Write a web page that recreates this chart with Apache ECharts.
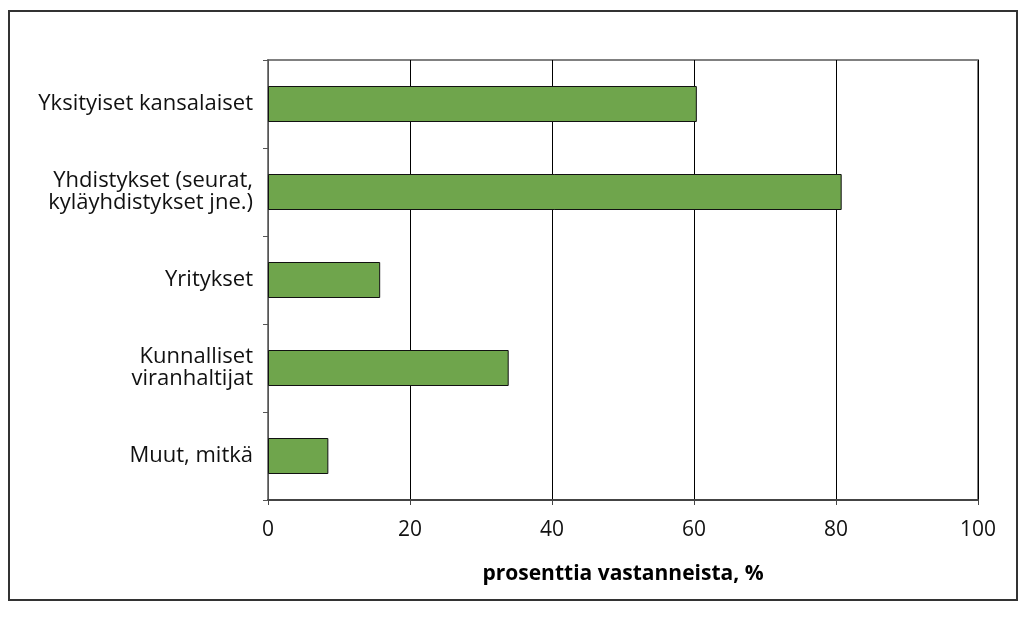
<!DOCTYPE html>
<html>
<head>
<meta charset="utf-8">
<script src="https://cdn.jsdelivr.net/npm/echarts@6/dist/echarts.min.js"></script>
<style>
  html, body { margin: 0; padding: 0; background: #fff; }
  #chart { width: 1026px; height: 626px; }
</style>
</head>
<body>
<div id="chart"></div>
<script>
const categories = [
  'Yksityiset kansalaiset',
  'Yhdistykset (seurat,\nkyläyhdistykset jne.)',
  'Yritykset',
  'Kunnalliset\nviranhaltijat',
  'Muut, mitkä'
]
const values = [60.4, 80.8, 15.8, 33.9, 8.5]
const xTicks = [0, 20, 40, 60, 80, 100]

const font = '"Open Sans", "Noto Sans", sans-serif'
const chart = echarts.init(document.getElementById('chart'))
chart.setOption({
  animation: false,
  graphic: [
    {
      type: 'rect',
      shape: { x: 9, y: 11, width: 1008, height: 589 },
      style: { fill: 'none', stroke: '#333', lineWidth: 2 },
      silent: true
    }
  ],
  grid: {
    left: 268,
    right: 48,
    top: 60,
    bottom: 126,
    show: true,
    borderColor: '#808080',
    borderWidth: 2
  },
  xAxis: {
    type: 'value',
    min: xTicks[0],
    max: xTicks[xTicks.length - 1],
    interval: 20,
    name: 'prosenttia vastanneista, %',
    nameLocation: 'middle',
    nameGap: 64,
    nameTextStyle: { fontFamily: font, fontSize: 21, fontWeight: 'bold', color: '#000' },
    axisLine: { show: true, lineStyle: { color: '#444', width: 2 } },
    axisTick: { show: true, length: 5, lineStyle: { color: '#444' } },
    axisLabel: { fontFamily: font, fontSize: 21, color: '#111', margin: 20 },
    splitLine: { show: true, lineStyle: { color: '#000', width: 1 } }
  },
  yAxis: {
    type: 'category',
    inverse: true,
    data: categories,
    axisLine: { show: true, lineStyle: { color: '#555', width: 1 } },
    axisTick: { show: true, length: 5, lineStyle: { color: '#555' } },
    axisLabel: {
      fontFamily: font,
      fontSize: 22,
      color: '#111',
      margin: 15,
      lineHeight: 22,
      align: 'right'
    }
  },
  series: [
    {
      type: 'bar',
      data: values,
      barWidth: 36,
      itemStyle: { color: '#6fa54c', borderColor: '#111', borderWidth: 1 }
    }
  ]
})
</script>
</body>
</html>
